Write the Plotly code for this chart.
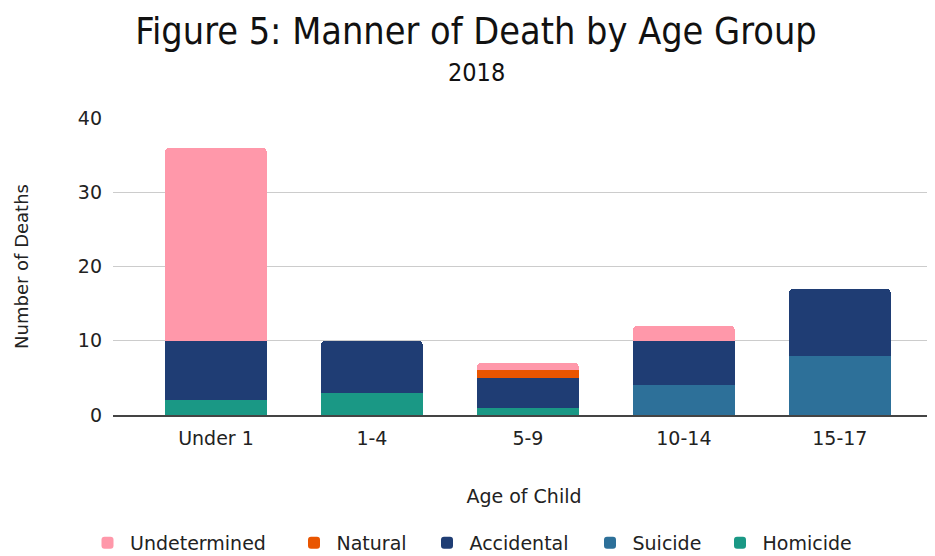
import plotly.graph_objects as go

categories = ["Under 1", "1-4", "5-9", "10-14", "15-17"]
homicide = [2, 3, 1, 0, 0]
suicide = [0, 0, 0, 4, 8]
accidental = [8, 7, 4, 6, 9]
natural = [0, 0, 1, 0, 0]
undetermined = [26, 0, 1, 2, 0]

series = [
    ("Homicide", homicide, "#1A9885"),
    ("Suicide", suicide, "#2D7099"),
    ("Accidental", accidental, "#1F3D74"),
    ("Natural", natural, "#E95500"),
    ("Undetermined", undetermined, "#FF98AA"),
]

W, H = 927, 548          # page body has an 8px margin
L, R, T, B = 105, 0, 110, 141
PW = W - L - R

# legend item left edges (figure px), in the order of `series`
legend_lefts = [709.5, 579.5, 416.5, 283.5, 77]

fig = go.Figure()
legends = {}
for i, (name, vals, color) in enumerate(series):
    key = "legend" if i == 0 else f"legend{i + 1}"
    fig.add_trace(go.Bar(x=categories, y=vals, name=name, showlegend=True,
                         marker=dict(color=color, line=dict(width=0)),
                         width=0.65, legend=key))
    legends[key] = dict(orientation="h", xref="container", yref="container",
                        x=legend_lefts[i] / W, xanchor="left",
                        y=1 - 535 / H, yanchor="middle", visible=True,
                        font=dict(size=19), itemwidth=35, bgcolor="rgba(0,0,0,0)")

font = "DejaVu Sans, Verdana, sans-serif"
cond = "DejaVu Sans Condensed, DejaVu Sans, sans-serif"
fig.update_layout(
    showlegend=True,
    barmode="stack",
    barcornerradius=4,
    width=W, height=H,
    margin=dict(l=L, r=R, t=T, b=B),
    paper_bgcolor="white", plot_bgcolor="white",
    font=dict(family=font, size=19, color="#222"),
    title=dict(text="Figure 5: Manner of Death by Age Group", x=468 / W, xanchor="center",
               xref="container", y=1 - 23 / H, yanchor="middle",
               font=dict(family=cond, size=37.5, color="#111")),
    xaxis=dict(range=[-0.66, 4.61], showgrid=False, showline=True, linecolor="#444", linewidth=2,
               ticks="", tickfont=dict(size=19), ticklabelstandoff=5,
               title=dict(text="Age of Child", font=dict(size=19), standoff=42)),
    yaxis=dict(range=[0, 40], dtick=10, showgrid=True, gridcolor="#cccccc", gridwidth=1,
               zeroline=False, ticks="", tickfont=dict(size=19), ticklabelstandoff=10,
               title=dict(text="Number of Deaths", font=dict(size=18), standoff=44)),
    annotations=[dict(text="2018", x=(468 - L) / PW, xref="paper", y=1 + (T - 65) / (H - T - B),
                      yref="paper", yanchor="middle", showarrow=False,
                      font=dict(family=cond, size=25, color="#111"))],
    **legends,
)
fig.write_html("out.html")
